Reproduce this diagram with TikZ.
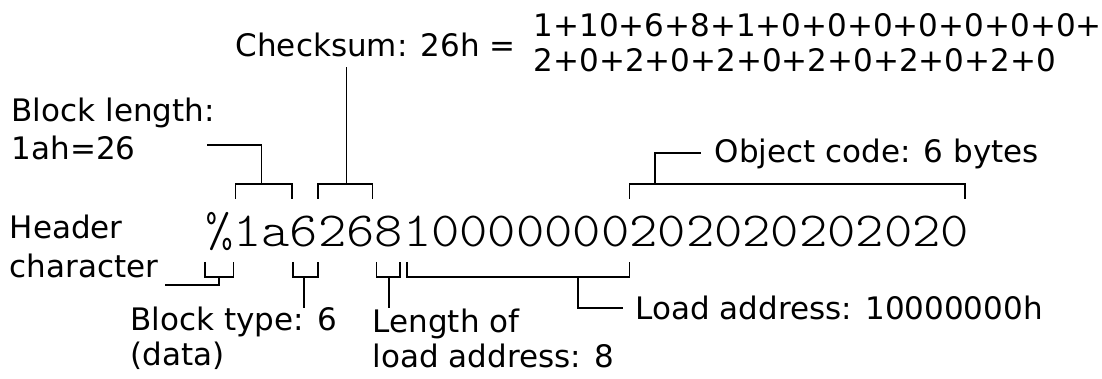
\documentclass[tikz,border=0pt]{standalone}
\usepackage{fontspec}
\setmainfont{DejaVu Sans}
\newfontfamily\codefont{lmmonolt10-regular.otf}[FakeStretch=1.1]
\begin{document}
\begin{tikzpicture}[x=1pt,y=1pt,line width=1.4pt]
 \tikzset{code/.style={font=\codefont\fontsize{49}{49}\selectfont, inner sep=0pt, outer sep=0pt, anchor=base west},
   lbl/.style={font=\fontsize{31}{35}\selectfont, inner sep=0pt, anchor=base west, align=left}}
  \useasboundingbox (0,0) rectangle (1102,379);
  % the record, one node per field
  \node[code] (hd) at (205,132) {\%};
  \node[code] (bl) at (hd.base east) {1a};
  \node[code] (bt) at (bl.base east) {6};
  \node[code] (cs) at (bt.base east) {26};
  \node[code] (la) at (cs.base east) {8};
  \node[code] (ad) at (la.base east) {10000000};
  \node[code] (ob) at (ad.base east) {202020202020};
  % labels
  \node[lbl] (chk) at (235,322) {Checksum: 26h =};
  \node[lbl] (sum) at (533,307) {1+10+6+8+1+0+0+0+0+0+0+0+\\2+0+2+0+2+0+2+0+2+0+2+0};
  \node[lbl] (blen) at (11,219) {Block length:\\[3pt]1ah=26};
  \node[lbl] (hdr) at (9,101) {Header\\[4pt]character};
  \node[lbl] (btype) at (130,13) {Block type: 6\\(data)};
  \node[lbl] (lalen) at (372,11) {Length of\\load address: 8};
  \node[lbl] (addr) at (635,59) {Load address: 10000000h};
  \node[lbl] (obj) at (714,216) {Object code: 6 bytes};
  % brackets above
  \draw ([xshift=2pt]bl.west |- 0,180) |- ([xshift=2pt]bl.east |- 0,195) -- ([xshift=2pt]bl.east |- 0,180);
  \draw (bl.center |- 0,195) -- ++(0,39) -- ++(-55,0);
  \draw (cs.west |- 0,180) |- ([xshift=-2pt]cs.east |- 0,195) -- ([xshift=-2pt]cs.east |- 0,180);
  \draw (cs.center |- 0,195) -- (cs.center |- 0,312);
  \draw (ob.west |- 0,180) |- ([xshift=-4pt]ob.east |- 0,195) -- ([xshift=-4pt]ob.east |- 0,180);
  \draw (655,195) |- (701,226);
  % brackets below
  \draw (hd.west |- 0,117) |- (hd.east |- 0,102) -- (hd.east |- 0,117);
  \draw (hd.center |- 0,102) |- (165,94);
  \draw ([xshift=3pt]bt.west |- 0,117) |- (bt.east |- 0,102) -- (bt.east |- 0,117);
  \draw (bt.center |- 0,102) -- (bt.center |- 0,71);
  \draw ([xshift=2pt]la.west |- 0,117) |- ([xshift=-3pt]la.east |- 0,102) -- ([xshift=-3pt]la.east |- 0,117);
  \draw (la.center |- 0,102) -- (la.center |- 0,71);
  \draw ([xshift=4pt]ad.west |- 0,117) |- (ad.east |- 0,102) -- (ad.east |- 0,117);
  \draw (578,102) |- (623,71);
\end{tikzpicture}
\end{document}
